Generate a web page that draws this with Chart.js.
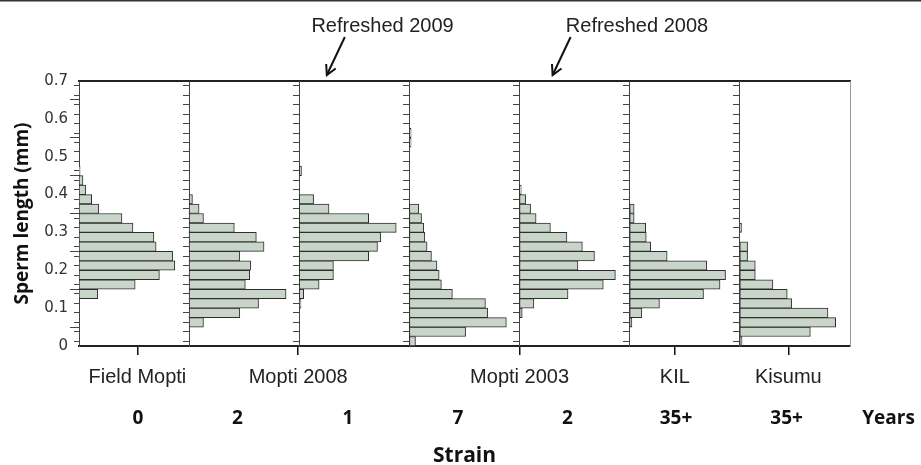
<!DOCTYPE html>
<html><head><meta charset="utf-8">
<script src="https://cdn.jsdelivr.net/npm/chart.js@4.4.1/dist/chart.umd.min.js"></script>
<style>html,body{margin:0;padding:0;background:#fff;overflow:hidden}#wrap{position:relative;width:921px;height:465px}</style>
</head><body><div id="wrap"><canvas id="c" width="921" height="465"></canvas></div>
<script>
// ---- data ----
const binStarts = [0, 0.025, 0.05, 0.075, 0.1, 0.125, 0.15, 0.175, 0.2, 0.225, 0.25, 0.275, 0.3, 0.325,
  0.35, 0.375, 0.4, 0.425, 0.45, 0.475, 0.5, 0.525, 0.55, 0.575, 0.6, 0.625, 0.65, 0.675];
// relative frequency (% of panel width) per bin
const fieldMopti  = [null,null,null,null,null,17,51,73,87,85,70,68,49,39,18,11.5,6,3.6,1,null,null,null,null,null,null,null,null,null];
const mopti2008   = [null,null,13,46,63,88,51,55,56,46,68,61,41,13,9,3,null,null,null,null,null,null,null,null,null,null,null,null];
const mopti2008R  = [null,null,null,null,1.5,4,18,31,31,63,71,74,88,63,27,13,null,null,2,null,null,null,null,null,null,null,null,null];
const mopti2003   = [5.5,51,88,71,69,39,29,27,25,20,16,14,13,11,8.5,null,null,null,null,null,null,1.5,1.5,null,null,null,null,null];
const mopti2003R  = [null,null,null,2.4,13,44,76,87,53,68,57,43,28,15,10,5.5,1.5,null,null,null,null,null,null,null,null,null,null,null];
const kil         = [null,null,2,11,27,67,82,87,70,34,19,15,14.5,4,4,null,null,null,null,null,null,null,null,null,null,null,null,null];
const kisumu      = [2,64,87,80,47,43,30,14,14,7,7,null,1.5,null,null,null,null,null,null,null,null,null,null,null,null,null,null,null];
const panels = [fieldMopti, mopti2008, mopti2008R, mopti2003, mopti2003R, kil, kisumu];
const panelNames = ['Field Mopti','Mopti 2008','Mopti 2008 (refreshed 2009)','Mopti 2003','Mopti 2003 (refreshed 2008)','KIL','Kisumu'];

const yMajorTicks = [0, 0.1, 0.2, 0.3, 0.4, 0.5, 0.6, 0.7];
const yMajorLabels = ['0','0.1','0.2','0.3','0.4','0.5','0.6','0.7'];
const strainLabels = ['Field Mopti','Mopti 2008','Mopti 2003','KIL','Kisumu'];
const strainPos = [53, 199, 400, 541, 644];
const yearLabels = ['0','2','1','7','2','35+','35+','Years'];
const yearPos = [53.6, 143.9, 244.2, 344.1, 443.5, 542, 642.4, 735];
const notes = [{text:'Refreshed 2009', tip:225, center:275.6}, {text:'Refreshed 2008', tip:430, center:506.6}];

// ---- chart ----
const PANEL = 100;
const BIN = binStarts[1] - binStarts[0];
const YMAX = 0.7;
const yMinorTicks = binStarts.concat([YMAX]);
const SANS = '"Liberation Sans", Arial, sans-serif';
const BOLD = '"Open Sans", sans-serif';

const datasets = panels.map((vals, p) => ({
  label: panelNames[p],
  data: vals.map((v, i) => v == null ? null : {y: binStarts[i] + BIN / 2, x: [p * PANEL, p * PANEL + v]}).filter(d => d),
  xAxisID: 'x', yAxisID: 'y',
  backgroundColor: '#c9d5c8', borderColor: '#2e2e2e', borderWidth: 1, borderSkipped: false,
  grouped: false, barPercentage: 1, categoryPercentage: 1
}));

function setTicks(list) { return s => { s.ticks = list.map(v => ({value: v})); }; }

const scales = {
  x: {
    type: 'linear', position: 'bottom', min: 0, max: PANEL * panels.length, offset: false,
    afterBuildTicks: setTicks(strainPos), afterFit: s => { s.height = 52; },
    ticks: {autoSkip: false, maxRotation: 0, padding: 10, color: '#222',
      font: {family: SANS, size: 20}, callback: (v, i) => strainLabels[i]},
    grid: {drawOnChartArea: false, drawTicks: true, tickLength: 9, color: '#111', lineWidth: 1.5},
    border: {display: true, color: '#222', width: 2}
  },
  xy: {
    axis: 'x', type: 'linear', position: 'bottom', min: 0, max: PANEL * panels.length, offset: false,
    afterBuildTicks: setTicks(yearPos), afterFit: s => { s.height = 67; },
    ticks: {autoSkip: false, maxRotation: 0, padding: 9, color: '#111',
      font: {family: BOLD, size: 19, weight: 'bold'}, callback: (v, i) => yearLabels[i]},
    grid: {display: false, drawTicks: false},
    border: {display: false},
    title: {display: true, text: 'Strain', color: '#111', padding: {top: 0, bottom: 0},
      font: {family: BOLD, size: 21, weight: 'bold', lineHeight: '18px'}}
  },
  xt: {
    axis: 'x', type: 'linear', position: 'top', min: 0, max: PANEL * panels.length, offset: false,
    afterFit: s => { s.height = 0; },
    ticks: {display: false}, grid: {display: false, drawTicks: false},
    border: {display: true, color: '#222', width: 2}
  },
  y: {
    type: 'linear', position: 'left', min: 0, max: YMAX, offset: false,
    afterBuildTicks: setTicks(yMinorTicks), afterFit: s => { s.width = 79; },
    ticks: {autoSkip: false, padding: 6, color: '#333', font: {family: '"DejaVu Sans", sans-serif', size: 15},
      callback: v => { const k = yMajorTicks.findIndex(m => Math.abs(m - v) < 1e-9); return k < 0 ? '' : yMajorLabels[k]; }},
    grid: {drawOnChartArea: false, tickLength: 5, color: '#444'},
    border: {color: '#444', width: 1},
    title: {display: true, text: 'Sperm length (mm)', color: '#111', padding: {top: 11, bottom: 0},
      font: {family: BOLD, size: 19, weight: 'bold'}}
  },
  ymaj: {
    axis: 'y', type: 'linear', position: {x: 0}, min: 0, max: YMAX, offset: false,
    afterBuildTicks: setTicks(yMajorTicks),
    ticks: {display: false}, grid: {drawOnChartArea: false, tickLength: 9, color: '#444'},
    border: {display: false}
  }
};
for (let p = 1; p < panels.length; p++) {
  scales['y' + p] = {
    axis: 'y', type: 'linear', position: {x: p * PANEL}, min: 0, max: YMAX, offset: false,
    afterBuildTicks: setTicks(yMinorTicks),
    ticks: {display: false}, grid: {drawOnChartArea: false, tickLength: 6, color: '#444'},
    border: {display: true, color: '#444', width: 1}
  };
}
scales.yr = {
  axis: 'y', type: 'linear', position: {x: PANEL * panels.length}, min: 0, max: YMAX, offset: false,
  ticks: {display: false}, grid: {display: false, drawTicks: false},
  border: {display: true, color: '#9a9a9a', width: 1}
};

const notesPlugin = {
  id: 'notes',
  afterDraw(chart) {
    const ctx = chart.ctx, xs = chart.scales.x, top = chart.chartArea.top;
    ctx.save();
    ctx.strokeStyle = '#333'; ctx.lineWidth = 1.5;
    ctx.beginPath(); ctx.moveTo(0, 0.75); ctx.lineTo(chart.width, 0.75); ctx.stroke();
    ctx.fillStyle = '#222'; ctx.font = '20px ' + SANS; ctx.textAlign = 'center'; ctx.textBaseline = 'alphabetic';
    notes.forEach(n => {
      const tx = xs.getPixelForValue(n.tip), ty = top - 6;
      const sx = tx + 18, sy = top - 44;
      ctx.fillText(n.text, xs.getPixelForValue(n.center), 32);
      ctx.strokeStyle = '#111'; ctx.lineWidth = 2;
      ctx.beginPath(); ctx.moveTo(sx, sy); ctx.lineTo(tx, ty); ctx.stroke();
      const ang = Math.atan2(sy - ty, sx - tx), L = 11, a = 0.5;
      ctx.beginPath();
      ctx.moveTo(tx + L * Math.cos(ang + a), ty + L * Math.sin(ang + a));
      ctx.lineTo(tx, ty);
      ctx.lineTo(tx + L * Math.cos(ang - a), ty + L * Math.sin(ang - a));
      ctx.stroke();
    });
    ctx.restore();
  }
};

new Chart(document.getElementById('c'), {
  type: 'bar',
  data: {datasets},
  options: {
    indexAxis: 'y', responsive: false, animation: false,
    layout: {padding: {top: 81, left: 0, right: 71, bottom: 0}},
    plugins: {legend: {display: false}, tooltip: {enabled: false}},
    scales
  },
  plugins: [notesPlugin]
});
</script></body></html>
